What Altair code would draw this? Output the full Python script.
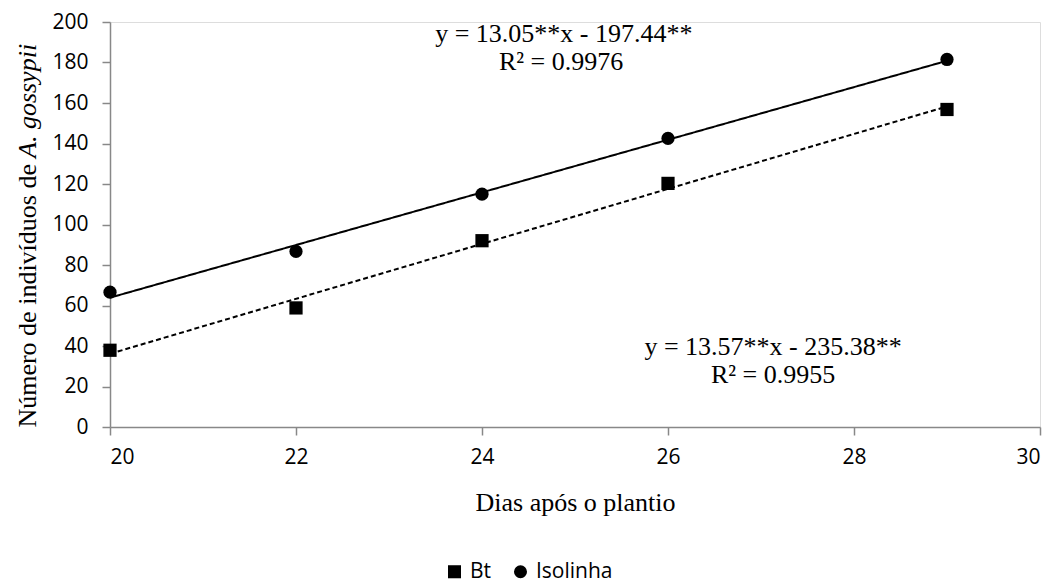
import altair as alt
import pandas as pd

# Data
dias = [20, 22, 24, 26, 29]
bt = [37.9, 58.8, 92.0, 120.3, 156.8]
isolinha = [66.6, 86.7, 115.0, 142.5, 181.5]
series = ["Bt", "Isolinha"]

eq_iso = ["y = 13.05**x - 197.44**", "R² = 0.9976"]
eq_bt = ["y = 13.57**x - 235.38**", "R² = 0.9955"]

df = pd.DataFrame({
    "dias": dias * 2,
    "valor": bt + isolinha,
    "serie": ["Bt"] * len(dias) + ["Isolinha"] * len(dias),
})

SANS = "Open Sans"
SERIF = "Liberation Serif"

base = alt.Chart(df)

x_enc = alt.X(
    "dias:Q",
    scale=alt.Scale(domain=[20, 30], nice=False, zero=False),
    axis=alt.Axis(values=[20, 22, 24, 26, 28, 30], format="d",
                  title="Dias após o plantio",
                  titleFont=SERIF, titleFontSize=26, titleFontWeight="normal",
                  titleColor="black", titlePadding=22,
                  labelFont=SANS, labelFontSize=21, labelColor="black",
                  labelPadding=11, tickSize=8, tickColor="#888888",
                  domainColor="#888888", domainWidth=1.5, tickWidth=1.5,
                  grid=False),
)
y_enc = alt.Y(
    "valor:Q",
    scale=alt.Scale(domain=[0, 200], nice=False),
    axis=alt.Axis(values=list(range(0, 201, 20)), title=None, format="d",
                  labelFont=SANS, labelFontSize=21, labelColor="black",
                  labelPadding=14, tickSize=8, tickColor="#888888",
                  domainColor="#888888", domainWidth=1.5, tickWidth=1.5,
                  grid=False),
)

def trend(name, dash):
    return base.transform_filter(
        alt.datum.serie == name
    ).transform_regression(
        "dias", "valor", method="linear"
    ).mark_line(color="black", strokeWidth=2, strokeDash=dash).encode(
        x=x_enc, y=y_enc
    )

line_bt = trend("Bt", [5, 3])
line_iso = trend("Isolinha", [1, 0])

points = base.mark_point(filled=True, opacity=1, color="black", size=175).encode(
    x=x_enc,
    y=y_enc,
    shape=alt.Shape("serie:N",
                    scale=alt.Scale(domain=series, range=["square", "circle"]),
                    legend=alt.Legend(title=None, orient="none", direction="horizontal",
                                      legendX=334, legendY=539,
                                      labelFont=SANS, labelFontSize=21,
                                      labelColor="black", symbolSize=170,
                                      symbolFillColor="black", symbolStrokeColor="black",
                                      symbolOpacity=1, columnPadding=18,
                                      labelOffset=5)),
)

def ann(text, xv, yv):
    return alt.Chart(pd.DataFrame({"t": [text]})).mark_text(
        font=SERIF, fontSize=26, color="black", align="center", baseline="middle"
    ).encode(x=alt.datum(xv), y=alt.datum(yv), text="t:N")

anns = (ann(eq_iso[0], 24.88, 194.3) + ann(eq_iso[1], 24.85, 180.3)
        + ann(eq_bt[0], 27.13, 39.6) + ann(eq_bt[1], 27.13, 25.8))

ytitle_a = alt.Chart(pd.DataFrame({"t": ["Número de indivíduos de"]})).mark_text(
    font=SERIF, fontSize=26, color="black", angle=270, align="right", baseline="middle"
).encode(x=alt.value(-82), y=alt.value(142), text="t:N")
ytitle_b = alt.Chart(pd.DataFrame({"t": ["A. gossypii"]})).mark_text(
    font=SERIF, fontSize=26, fontStyle="italic", color="black", angle=270,
    align="left", baseline="middle"
).encode(x=alt.value(-82), y=alt.value(136), text="t:N")

chart = alt.layer(line_bt, line_iso, points, anns, ytitle_a, ytitle_b).properties(
    width=930, height=405,
    autosize=alt.AutoSizeParams(type="none"),
    padding={"left": 102, "top": 14, "right": 8, "bottom": 157},
).configure_view(stroke=None).configure(background="white")

chart.save("out.html", embed_options={"renderer": "svg", "actions": False})
